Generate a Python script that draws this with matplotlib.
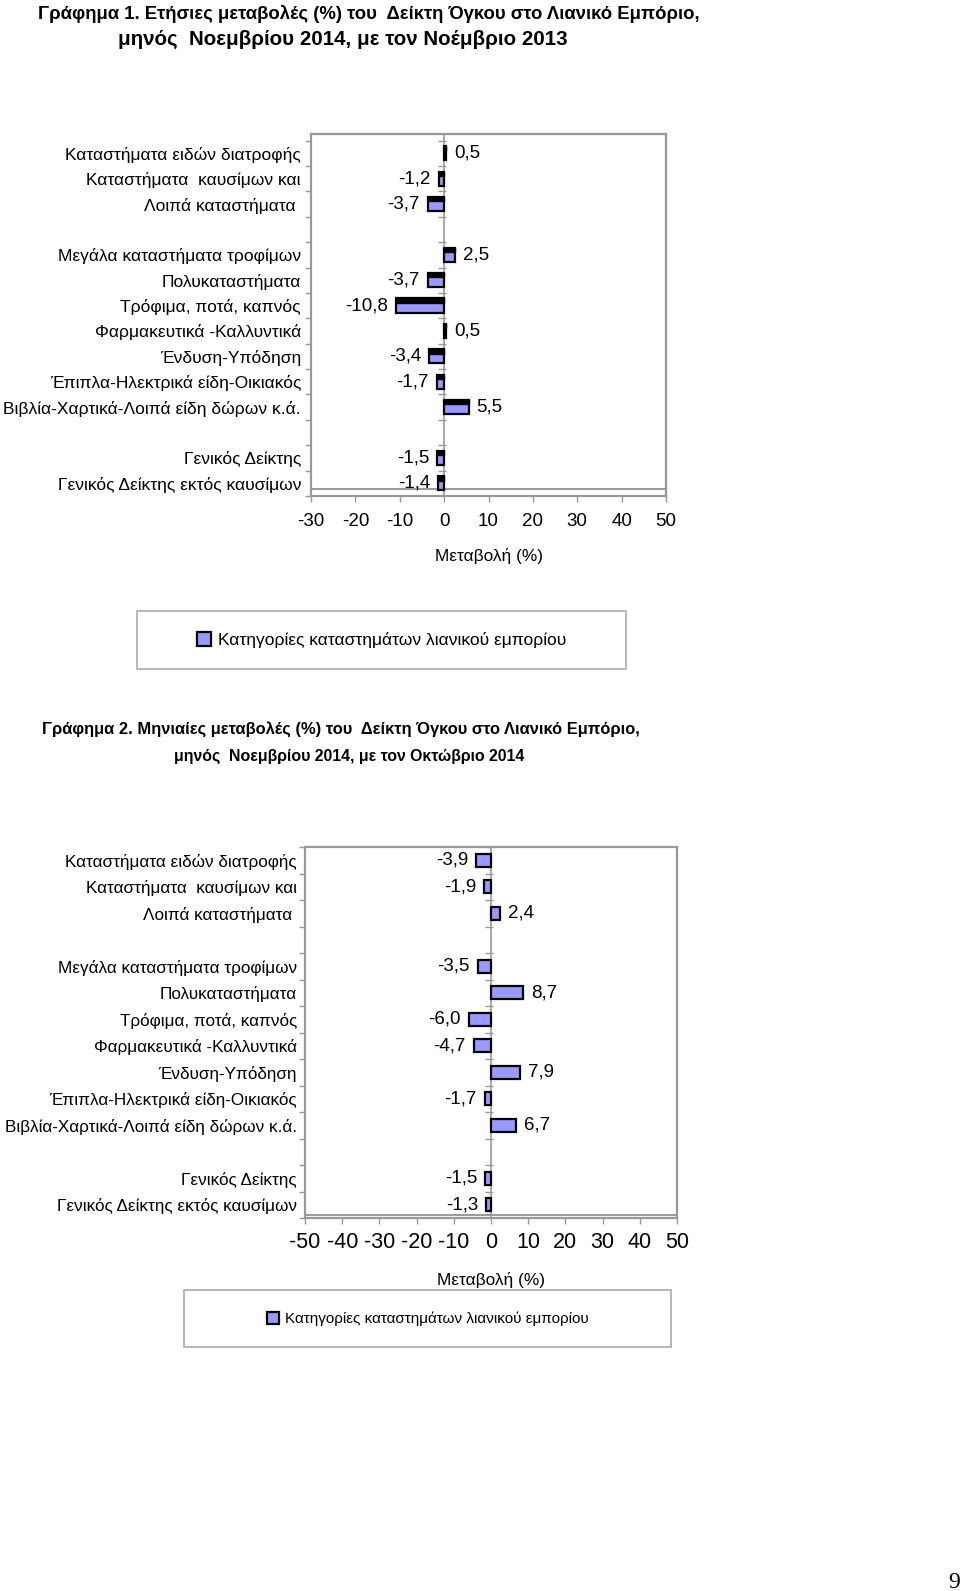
"""Annual and monthly changes of the retail trade volume index, Nov 2014."""

import matplotlib

matplotlib.use("Agg")
import matplotlib.pyplot as plt
from matplotlib.patches import Patch, Rectangle

W, H = 960, 1591
FONT = "Liberation Sans"
BAR = "#9999FF"
GRID = "#999999"

categories = [
    "Καταστήματα ειδών διατροφής",
    "Καταστήματα  καυσίμων και",
    "Λοιπά καταστήματα ",
    "",
    "Μεγάλα καταστήματα τροφίμων",
    "Πολυκαταστήματα",
    "Τρόφιμα, ποτά, καπνός",
    "Φαρμακευτικά -Καλλυντικά",
    "Ένδυση-Υπόδηση",
    "Έπιπλα-Ηλεκτρικά είδη-Οικιακός",
    "Βιβλία-Χαρτικά-Λοιπά είδη δώρων κ.ά.",
    "",
    "Γενικός Δείκτης",
    "Γενικός Δείκτης εκτός καυσίμων",
]
annual_change = [0.5, -1.2, -3.7, None, 2.5, -3.7, -10.8, 0.5, -3.4, -1.7, 5.5, None, -1.5, -1.4]
monthly_change = [-3.9, -1.9, 2.4, None, -3.5, 8.7, -6.0, -4.7, 7.9, -1.7, 6.7, None, -1.5, -1.3]
annual_ticks = [-30, -20, -10, 0, 10, 20, 30, 40, 50]
monthly_ticks = [-50, -40, -30, -20, -10, 0, 10, 20, 30, 40, 50]
legend_label = "Κατηγορίες καταστημάτων λιανικού εμπορίου"
xlabel = "Μεταβολή (%)"

title1 = [
    "Γράφημα 1. Ετήσιες μεταβολές (%) του  Δείκτη Όγκου στο Λιανικό Εμπόριο,",
    "μηνός  Νοεμβρίου 2014, με τον Νοέμβριο 2013",
]
title2 = [
    "Γράφημα 2. Μηνιαίες μεταβολές (%) του  Δείκτη Όγκου στο Λιανικό Εμπόριο,",
    "μηνός  Νοεμβρίου 2014, με τον Οκτώβριο 2014",
]

plt.rcParams["font.family"] = [FONT, "DejaVu Sans"]

fig = plt.figure(figsize=(W / 100, H / 100), dpi=100)


def px_axes(left, top, right, bottom):
    return fig.add_axes([left / W, 1 - bottom / H, (right - left) / W, (bottom - top) / H])


def fmt(v):
    return f"{v:.1f}".replace(".", ",")


def draw_chart(ax, values, ticks, *, top_pad, bar_h, strip_h, px_per_unit, tick_size,
               cat_size, cat_pad, tick_pad, labelpad, second_line):
    n = len(categories)
    rows = list(range(n))
    ax.set_xlim(ticks[0], ticks[-1])
    ax.set_ylim(n - 0.5, -0.5 - top_pad)

    xs = [r for r, v in zip(rows, values) if v is not None]
    vs = [v for v in values if v is not None]
    ax.barh(xs, vs, height=bar_h, color=BAR, edgecolor="black", linewidth=1.6, zorder=3)
    if strip_h:
        ax.barh([x - bar_h / 2 + strip_h / 2 for x in xs], vs, height=strip_h,
                color="black", edgecolor="black", linewidth=1.0, zorder=4)

    gap = 8 / px_per_unit
    for x, v in zip(xs, vs):
        if v < 0:
            ax.text(v - gap, x, fmt(v), ha="right", va="center", fontsize=13.5)
        else:
            ax.text(v + gap, x, fmt(v), ha="left", va="center", fontsize=13.5)

    # category axis crossing at zero
    ax.axvline(0, color=GRID, linewidth=1.2, zorder=2)
    bounds = [r - 0.5 for r in range(n + 1)]
    ax.hlines(bounds, -6 / px_per_unit, 2 / px_per_unit, color=GRID, linewidth=1.0, zorder=2)
    ax.axhline(n - 0.5 - second_line, color=GRID, linewidth=1.4, zorder=2)

    ax.set_yticks(bounds)
    ax.set_yticklabels([])
    ax.set_yticks(rows, categories, minor=True)
    ax.tick_params(axis="y", which="major", direction="out", length=4.5, color=GRID, width=1)
    ax.tick_params(axis="y", which="minor", length=0, pad=cat_pad, labelsize=cat_size)

    ax.set_xticks(ticks)
    ax.set_xticklabels([str(t) for t in ticks])
    ax.tick_params(axis="x", direction="out", length=4, color=GRID, width=1,
                   labelsize=tick_size, pad=tick_pad)
    ax.set_xlabel(xlabel, fontsize=12.4, labelpad=labelpad)

    for s in ax.spines.values():
        s.set_color(GRID)
        s.set_linewidth(1.6)


def draw_legend(box, size, center):
    left, top, right, bottom = box
    fig.patches.append(Rectangle((left / W, 1 - bottom / H), (right - left) / W, (bottom - top) / H,
                                 transform=fig.transFigure, facecolor="none",
                                 edgecolor="#AAAAAA", linewidth=1.2))
    handle = Patch(facecolor=BAR, edgecolor="black", linewidth=1.6)
    fig.legend([handle], [legend_label], loc="center",
               bbox_to_anchor=(center[0] / W, 1 - center[1] / H), frameon=False,
               fontsize=size, handlelength=0.8, handleheight=0.8, handletextpad=0.4)


# chart 1
fig.text(369 / W, 1 - 14 / H, title1[0], ha="center", va="center", fontsize=13.3, fontweight="bold")
fig.text(343 / W, 1 - 39 / H, title1[1], ha="center", va="center", fontsize=14.8, fontweight="bold")
ax1 = px_axes(311, 134, 666, 496)
draw_chart(ax1, annual_change, annual_ticks, top_pad=0.26, bar_h=0.56, strip_h=0.17,
           px_per_unit=355 / 80, tick_size=13.5, cat_size=12.5, cat_pad=7.2,
           tick_pad=8, labelpad=13.5, second_line=0.28)
draw_legend((137, 611, 626, 669), 12.5, (382, 640))

# chart 2
fig.text(341 / W, 1 - 729 / H, title2[0], ha="center", va="center", fontsize=11.9, fontweight="bold")
fig.text(349 / W, 1 - 756 / H, title2[1], ha="center", va="center", fontsize=11.4, fontweight="bold")
ax2 = px_axes(305, 847, 677, 1218)
draw_chart(ax2, monthly_change, monthly_ticks, top_pad=0.0, bar_h=0.48, strip_h=0.0,
           px_per_unit=372 / 100, tick_size=15.5, cat_size=12.3, cat_pad=5.8,
           tick_pad=6, labelpad=13.5, second_line=0.12)
draw_legend((184, 1290, 671, 1347), 11, (428, 1319))

fig.text(954 / W, 1 - 1583 / H, "9", ha="center", va="center", fontsize=17,
         family="Liberation Serif")

fig.savefig("out.png", dpi=100)
